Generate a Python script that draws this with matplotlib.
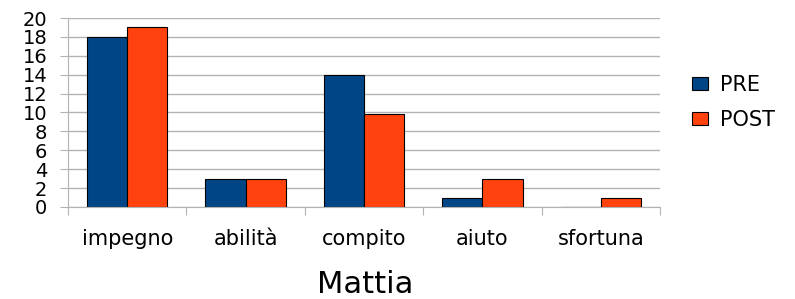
import matplotlib.pyplot as plt
import numpy as np

categories = ["impegno", "abilità", "compito", "aiuto", "sfortuna"]
pre = [18, 3, 14, 1, 0]
post = [19, 3, 9.8, 3, 1]

plt.rcParams['font.family'] = ['DejaVu Sans']

fig = plt.figure(figsize=(7.95, 2.99), dpi=100)
ax = fig.add_axes([68/795, 1 - 207/299, (660-68)/795, (207-18)/299])

x = np.arange(len(categories))
w = 0.34
ax.bar(x - w/2, pre, w, color="#004586", edgecolor="black", linewidth=0.8, label="PRE")
ax.bar(x + w/2, post, w, color="#ff420e", edgecolor="black", linewidth=0.8, label="POST")

ax.set_xlim(-0.5, len(categories) - 0.5)
ax.set_ylim(0, 20)
ax.set_yticks(range(0, 21, 2))
ax.set_xticks(np.arange(len(categories) + 1) - 0.5)
ax.set_xticklabels([])
ax.set_xticks(x, minor=True)
ax.set_xticklabels(categories, minor=True, fontsize=15)
ax.tick_params(axis="x", which="minor", length=0, pad=16)
ax.tick_params(axis="x", which="major", length=6, color="#b3b3b3")
ax.tick_params(axis="y", length=6, color="#b3b3b3", labelsize=14, pad=9)
ax.grid(axis="y", color="#b3b3b3", linewidth=1)
ax.set_axisbelow(True)
for s in ["top", "right"]:
    ax.spines[s].set_visible(False)
for s in ["left", "bottom"]:
    ax.spines[s].set_color("#b3b3b3")

fig.text(365/795, 1 - 293/299, "Mattia", fontsize=22, ha="center", va="baseline")

fig.legend(loc="center left", bbox_to_anchor=(692/795, 1 - 102.5/299), frameon=False,
           borderpad=0, borderaxespad=0,
           fontsize=15, handlelength=0.77, handleheight=0.58, labelspacing=0.7, handletextpad=0.58)

plt.savefig("out.png")
